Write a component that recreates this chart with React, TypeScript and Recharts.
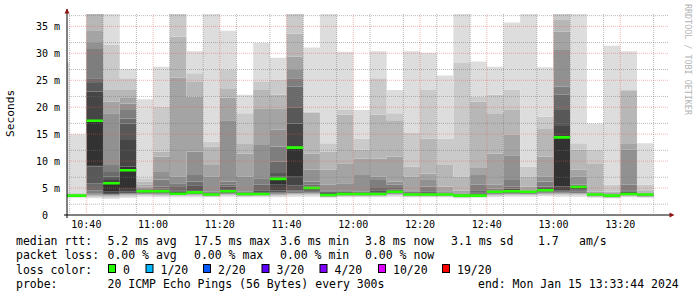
import { ComposedChart, Area, XAxis, YAxis, CartesianGrid } from 'recharts'

// 5-minute slot start times (each slot holds 20 ICMP pings)
const slotStart = [
  '10:30', '10:35', '10:40', '10:45', '10:50', '10:55', '11:00', '11:05', '11:10', '11:15',
  '11:20', '11:25', '11:30', '11:35', '11:40', '11:45', '11:50', '11:55', '12:00', '12:05',
  '12:10', '12:15', '12:20', '12:25', '12:30', '12:35', '12:40', '12:45', '12:50', '12:55',
  '13:00', '13:05', '13:10', '13:15', '13:20', '13:25',
]

// median rtt per slot (ms)
const medianRtt = [
  3.6, 3.6, 17.5, 5.9, 8.3, 4.4, 4.4, 3.95, 4.2, 3.8,
  4.4, 3.9, 3.9, 6.7, 12.5, 5.0, 3.7, 3.9, 3.9, 3.9,
  4.3, 3.8, 3.8, 3.8, 3.6, 3.6, 4.3, 4.4, 4.3, 4.6,
  14.4, 5.2, 3.8, 3.6, 3.9, 3.8,
]

// the 20 pings of every slot, sorted (ms)
const sortedPings = [
  [3.2, 3.3, 3.4, 3.45, 3.5, 3.55, 3.6, 3.6, 3.6, 3.6, 3.65, 3.7, 3.7, 3.75, 3.8, 3.85, 3.9, 4.0, 4.2, 28.3],
  [3.2, 3.3, 3.4, 3.45, 3.5, 3.55, 3.6, 3.6, 3.6, 3.6, 3.65, 3.7, 3.7, 3.75, 3.8, 3.85, 3.9, 4.0, 4.1, 15.0],
  [3.1, 3.3, 3.5, 3.7, 3.9, 4.1, 4.6, 5.9, 9.0, 9.3, 17.6, 22.9, 24.5, 25.4, 30.8, 31.9, 34.3, 40, 45, 50],
  [3.0, 3.2, 3.4, 3.5, 3.6, 3.7, 3.8, 3.9, 4.1, 4.3, 5.9, 6.5, 7.1, 8.0, 9.3, 18.9, 21.0, 23.2, 31.6, 45],
  [3.2, 3.4, 3.6, 3.7, 3.8, 3.9, 4.0, 4.1, 4.3, 5.0, 9.0, 13.9, 17.0, 17.9, 19.5, 20.7, 21.7, 23.2, 25.4, 27.1],
  [3.4, 3.6, 3.7, 3.8, 3.85, 3.9, 4.0, 4.1, 4.2, 4.3, 4.5, 4.7, 4.8, 4.9, 5.1, 5.3, 5.6, 6.2, 6.8, 21.5],
  [3.3, 3.5, 3.6, 3.7, 3.8, 3.9, 4.0, 4.1, 4.2, 4.3, 4.5, 4.7, 4.9, 5.3, 6.6, 8.0, 10.8, 11.8, 20.1, 27.5],
  [3.3, 3.5, 3.6, 3.65, 3.7, 3.75, 3.8, 3.85, 3.9, 3.95, 4.05, 4.3, 4.6, 5.2, 5.9, 7.1, 25.5, 33.1, 40, 45],
  [3.3, 3.5, 3.6, 3.7, 3.8, 3.85, 3.9, 3.95, 4.0, 4.1, 4.3, 4.6, 5.5, 6.2, 7.4, 11.8, 22.0, 24.8, 26.3, 30.4],
  [3.3, 3.4, 3.45, 3.5, 3.55, 3.6, 3.65, 3.7, 3.75, 3.8, 3.9, 4.0, 4.1, 4.2, 4.3, 7.1, 9.3, 12.7, 13.6, 50],
  [3.4, 3.6, 3.7, 3.8, 3.85, 3.9, 4.0, 4.1, 4.2, 4.3, 4.5, 4.8, 5.3, 5.6, 6.2, 17.6, 21.8, 23.5, 26.9, 34.2],
  [3.3, 3.4, 3.5, 3.55, 3.6, 3.65, 3.7, 3.75, 3.8, 3.85, 3.95, 4.0, 4.1, 4.2, 4.3, 7.1, 11.4, 13.3, 18.9, 22.3],
  [3.3, 3.45, 3.55, 3.6, 3.65, 3.7, 3.75, 3.8, 3.85, 3.9, 4.0, 4.2, 4.6, 5.6, 6.8, 13.0, 19.8, 23.2, 24.8, 31.9],
  [3.3, 3.5, 3.6, 3.7, 3.8, 3.9, 4.0, 4.2, 4.6, 5.6, 6.9, 7.1, 7.8, 9.9, 12.7, 15.8, 19.8, 22.3, 25.1, 29.2],
  [3.4, 3.6, 3.8, 3.9, 4.0, 4.1, 4.3, 4.6, 5.5, 7.1, 12.7, 17.0, 20.0, 23.8, 25.4, 26.9, 29.4, 33.7, 40, 48],
  [3.4, 3.6, 3.8, 3.9, 4.0, 4.1, 4.2, 4.3, 4.5, 4.8, 5.0, 5.1, 5.3, 5.6, 6.2, 8.4, 11.4, 19.0, 19.2, 31.1],
  [3.2, 3.3, 3.35, 3.4, 3.45, 3.5, 3.55, 3.6, 3.65, 3.7, 3.8, 3.9, 4.1, 4.3, 4.6, 5.6, 8.4, 11.8, 13.3, 50],
  [3.3, 3.4, 3.5, 3.55, 3.6, 3.65, 3.7, 3.75, 3.8, 3.85, 3.95, 4.0, 4.1, 4.3, 4.6, 5.9, 9.6, 18.6, 19.5, 30.3],
  [3.3, 3.4, 3.5, 3.55, 3.6, 3.65, 3.7, 3.75, 3.8, 3.85, 3.9, 3.95, 4.0, 4.1, 4.3, 7.4, 10.5, 12.1, 14.2, 19.5],
  [3.3, 3.4, 3.5, 3.6, 3.65, 3.7, 3.75, 3.8, 3.85, 3.9, 4.0, 4.2, 4.6, 5.0, 6.5, 7.1, 10.5, 18.6, 25.4, 30.4],
  [3.4, 3.6, 3.7, 3.8, 3.9, 3.95, 4.0, 4.1, 4.2, 4.25, 4.35, 4.5, 4.7, 5.0, 5.6, 6.2, 10.8, 17.6, 18.9, 23.2],
  [3.3, 3.4, 3.45, 3.5, 3.55, 3.6, 3.65, 3.7, 3.75, 3.8, 3.85, 3.9, 4.0, 4.1, 4.3, 4.6, 7.1, 9.0, 15.2, 30.4],
  [3.3, 3.4, 3.45, 3.5, 3.55, 3.6, 3.65, 3.7, 3.75, 3.8, 3.85, 3.95, 4.1, 4.4, 5.3, 6.5, 7.7, 14.2, 23.2, 30.1],
  [3.3, 3.4, 3.45, 3.5, 3.55, 3.6, 3.65, 3.7, 3.75, 3.8, 3.85, 3.9, 3.95, 4.0, 4.2, 4.4, 5.3, 9.3, 14.2, 25.9],
  [3.1, 3.2, 3.25, 3.3, 3.35, 3.4, 3.45, 3.5, 3.55, 3.6, 3.7, 3.75, 3.8, 3.9, 4.0, 4.2, 4.5, 7.1, 28.2, 45],
  [3.2, 3.3, 3.35, 3.4, 3.45, 3.5, 3.55, 3.6, 3.65, 3.7, 3.8, 4.0, 4.2, 4.6, 5.6, 7.4, 8.7, 21.0, 22.0, 28.5],
  [3.3, 3.5, 3.6, 3.7, 3.8, 3.9, 3.95, 4.0, 4.1, 4.2, 4.3, 4.4, 4.5, 4.6, 4.9, 5.6, 11.4, 18.9, 22.3, 27.5],
  [3.4, 3.6, 3.7, 3.8, 3.9, 3.95, 4.0, 4.1, 4.2, 4.35, 4.45, 4.6, 4.9, 5.3, 6.5, 11.1, 14.9, 19.5, 23.2, 35.7],
  [3.4, 3.6, 3.7, 3.8, 3.85, 3.9, 3.95, 4.0, 4.1, 4.2, 4.25, 4.3, 4.35, 4.4, 4.5, 4.6, 5.3, 7.1, 9.0, 45],
  [3.5, 3.7, 3.8, 3.9, 4.0, 4.1, 4.2, 4.3, 4.4, 4.5, 4.7, 4.8, 5.0, 5.3, 6.2, 7.1, 10.8, 16.1, 18.3, 27.4],
  [3.4, 3.6, 3.8, 3.9, 4.0, 4.1, 4.2, 4.3, 4.6, 5.3, 14.5, 16.5, 19.5, 22.3, 23.8, 30.6, 34.0, 36.2, 40, 45],
  [3.4, 3.6, 3.8, 3.9, 4.0, 4.1, 4.3, 4.5, 4.8, 5.1, 5.2, 5.25, 5.3, 5.4, 5.6, 7.1, 8.4, 12.1, 13.3, 45],
  [3.2, 3.35, 3.4, 3.45, 3.5, 3.55, 3.6, 3.65, 3.7, 3.75, 3.8, 3.85, 3.9, 3.95, 4.0, 4.1, 4.3, 9.6, 12.1, 17.0],
  [3.1, 3.15, 3.2, 3.25, 3.3, 3.35, 3.4, 3.45, 3.5, 3.55, 3.6, 3.65, 3.7, 3.75, 3.8, 3.9, 4.1, 4.3, 5.6, 31.4],
  [3.3, 3.4, 3.5, 3.6, 3.65, 3.7, 3.75, 3.8, 3.85, 3.9, 4.0, 4.1, 4.3, 4.6, 5.6, 12.1, 13.3, 23.0, 23.2, 30.4],
  [3.2, 3.3, 3.35, 3.4, 3.45, 3.5, 3.55, 3.6, 3.65, 3.7, 3.75, 3.8, 3.85, 3.9, 3.95, 4.0, 4.2, 4.6, 5.6, 13.3],
]

const timeTicks = ['10:40', '11:00', '11:20', '11:40', '12:00', '12:20', '12:40', '13:00', '13:20']
const rttTicks = [0, 5, 10, 15, 20, 25, 30, 35]

const lossLabels = ['0', '1/20', '2/20', '3/20', '4/20', '10/20', '19/20']
const lossColors = ['#26ff00', '#00b8ff', '#0059ff', '#5e00ff', '#7e00ff', '#dd00ff', '#ff0000']

const MONO = '"DejaVu Sans Mono", monospace'
const MED_HALF = 0.24
const PINGS = 20

const toMin = (s: string) => {
  const [h, m] = s.split(':').map(Number)
  return h * 60 + m
}
const fmtTime = (v: number) => `${Math.floor(v / 60)}:${String(v % 60).padStart(2, '0')}`

// smokeping shading: band k sits between ping k and k+1, darker towards the middle
const smokeGray = (k: number) => {
  const j = Math.min(k, PINGS - k)
  const g = Math.floor((190 / 10) * (10 - j)) + 50
  return `rgb(${g},${g},${g})`
}

const rows = slotStart.map((s, i) => {
  const p = sortedPings[i]
  const row: Record<string, number> = {
    t: toMin(s),
    base: p[0],
    mlo: medianRtt[i] - MED_HALF,
    mband: MED_HALF * 2,
  }
  for (let k = 1; k < PINGS; k++) row[`s${k}`] = p[k] - p[k - 1]
  return row
})
// closing point so the last 5 minute slot gets its width in a step area
rows.push({ ...rows[rows.length - 1], t: rows[rows.length - 1].t + 5 })

const bandKeys = Array.from({ length: PINGS - 1 }, (_, i) => i + 1)
const minorRtt = Array.from({ length: 37 }, (_, i) => i + 1).filter(v => v % 5 !== 0)
const minorTime = Array.from({ length: 36 }, (_, i) => 635 + i * 5).filter(v => v % 20 !== 0)

function TimeTick({ x, y, payload }: any) {
  return (
    <text x={x} y={y + 13.3} textAnchor="middle" fontSize={10} fontFamily={MONO} fill="#000">
      {fmtTime(payload.value)}
    </text>
  )
}

function RttTick({ x, y, payload }: any) {
  const v = payload.value
  return (
    <text x={v === 0 ? x - 12 : x} y={y + 3.6} textAnchor="end" fontSize={10} fontFamily={MONO} fill="#000">
      {v === 0 ? '0' : `${v} m`}
    </text>
  )
}

const legendRows = [
  { y: 245.3, items: [[16, 'median rtt:'], [107.5, '5.2 ms avg'], [194, '17.5 ms max'], [280, '3.6 ms min'], [365, '3.8 ms now'], [451, '3.1 ms sd'], [538, '1.7'], [579, 'am/s']] },
  { y: 259.3, items: [[16, 'packet loss:'], [107.5, '0.00 % avg'], [194, '0.00 % max'], [280, '0.00 % min'], [365, '0.00 % now']] },
  { y: 273.7, items: [[16, 'loss color:']] },
  { y: 287.7, items: [[16, 'probe:'], [107.5, '20 ICMP Echo Pings (56 Bytes) every 300s'], [478, 'end: Mon Jan 15 13:33:44 2024']] },
] as { y: number; items: [number, string][] }[]
const boxX = [108.5, 146, 203.5, 262, 320, 378.5, 442.5]

export default function App() {
  return (
    <div style={{ position: 'absolute', left: 0, top: 0, width: 697, height: 297, background: '#fff' }}>
      <ComposedChart
        width={697}
        height={297}
        data={rows}
        margin={{ top: 14, right: 29, bottom: 62, left: 0 }}
      >
        <XAxis
          dataKey="t"
          type="number"
          domain={[634.2, 814.3]}
          allowDataOverflow
          ticks={timeTicks.map(toMin)}
          tick={<TimeTick />}
          tickLine={false}
          tickSize={0}
          tickMargin={0}
          height={20}
          axisLine={{ stroke: '#000' }}
        />
        <YAxis
          type="number"
          domain={[0, 37.3]}
          allowDataOverflow
          ticks={rttTicks}
          tick={<RttTick />}
          tickLine={false}
          tickSize={0}
          tickMargin={7}
          width={67}
          axisLine={{ stroke: '#000' }}
        />
        <Area dataKey="base" stackId="smoke" type="stepAfter" stroke="none" fill="none" isAnimationActive={false} dot={false} activeDot={false} />
        {bandKeys.map(k => (
          <Area
            key={k}
            dataKey={`s${k}`}
            stackId="smoke"
            type="stepAfter"
            stroke="none"
            fill={smokeGray(k)}
            fillOpacity={1}
            isAnimationActive={false}
            dot={false}
            activeDot={false}
          />
        ))}
        <Area dataKey="mlo" stackId="med" type="stepAfter" stroke="none" fill="none" isAnimationActive={false} dot={false} activeDot={false} />
        <Area dataKey="mband" stackId="med" type="stepAfter" stroke="none" fill={lossColors[0]} fillOpacity={1} isAnimationActive={false} dot={false} activeDot={false} />
        <CartesianGrid
          horizontalValues={minorRtt}
          verticalValues={minorTime}
          stroke="rgba(120,120,120,0.5)"
          strokeDasharray="1 1"
          fill="none"
          zIndex={500}
        />
        <CartesianGrid
          horizontalValues={rttTicks.slice(1)}
          verticalValues={timeTicks.map(toMin)}
          stroke="rgba(230,90,90,0.45)"
          strokeDasharray="1 1"
          fill="none"
          zIndex={500}
        />
      </ComposedChart>

      <svg width={697} height={297} style={{ position: 'absolute', left: 0, top: 0, pointerEvents: 'none' }}>
        {/* axis extensions and arrows */}
        <line x1={67} y1={9} x2={67} y2={14} stroke="#000" />
        <line x1={67} y1={215} x2={67} y2={218} stroke="#000" />
        <line x1={64} y1={215} x2={67} y2={215} stroke="#000" />
        <line x1={668} y1={215} x2={670} y2={215} stroke="#000" />
        <polygon points="67,8.5 64.5,13.5 69.5,13.5" fill="#8f1515" />
        <polygon points="674.5,215 669.5,212.5 669.5,217.5" fill="#8f1515" />

        <text
          x={14.5}
          y={113.3}
          transform="rotate(-90 14.5 113.3)"
          textAnchor="middle"
          fontSize={11.2}
          fontFamily={MONO}
          fill="#000"
        >
          Seconds
        </text>
        <text
          x={684.5}
          y={59.5}
          transform="rotate(90 684.5 59.5)"
          textAnchor="middle"
          fontSize={8.4}
          fontFamily={MONO}
          fill="#b4b4b4"
        >
          RRDTOOL / TOBI OETIKER
        </text>

        {legendRows.map(r =>
          r.items.map(([x, s]) => (
            <text key={`${r.y}-${x}`} x={x} y={r.y} fontSize={11.5} fontFamily={MONO} fill="#000">
              {s}
            </text>
          ))
        )}
        {lossLabels.map((l, i) => (
          <g key={l}>
            <rect x={boxX[i]} y={264.5} width={7} height={8} fill={lossColors[i]} stroke="#000" />
            <text x={boxX[i] + 14.5} y={273.7} fontSize={11.5} fontFamily={MONO} fill="#000">
              {l}
            </text>
          </g>
        ))}
      </svg>
    </div>
  )
}
